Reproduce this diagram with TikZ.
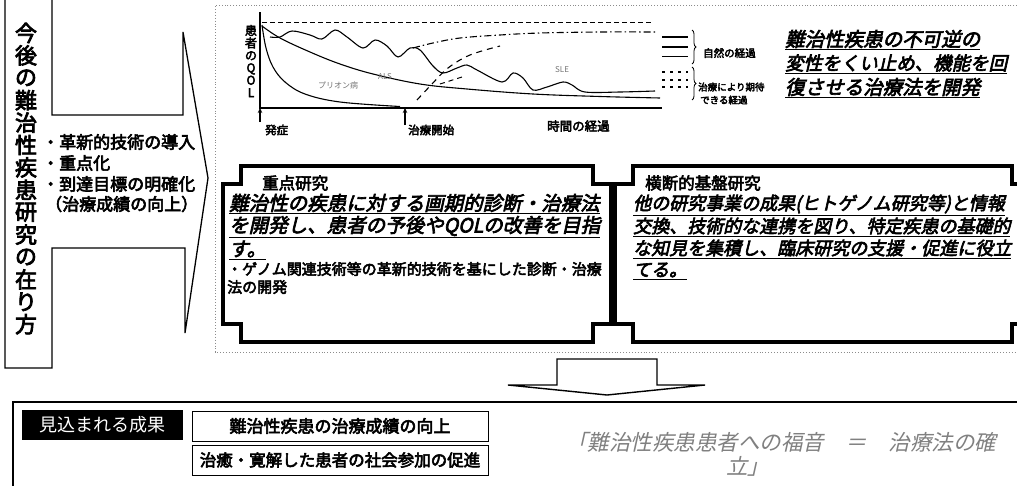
\documentclass[tikz,border=0pt]{standalone}
\usepackage{fontspec}
\newfontfamily\jp{Noto Sans CJK JP}
\newfontfamily\jpb[FakeBold=3.5]{Noto Sans CJK JP}
\newfontfamily\jpbi[FakeBold=3.5,FakeSlant=0.22]{Noto Sans CJK JP}
\newfontfamily\jpi[FakeSlant=0.22]{Noto Sans CJK JP}
\usetikzlibrary{arrows.meta,decorations.pathreplacing}
\newcommand\fs[2]{\fontsize{#1}{#2}\selectfont}
\newcommand\plaquebox[5]{%
  \draw[plaque] ({#1+#5},#2) -- ({#3-#5},#2) -- ({#3-#5},{#2+#5}) -- (#3,{#2+#5}) -- (#3,{#4-#5}) -- ({#3-#5},{#4-#5}) -- ({#3-#5},#4) -- ({#1+#5},#4) -- ({#1+#5},{#4-#5}) -- (#1,{#4-#5}) -- (#1,{#2+#5}) -- ({#1+#5},{#2+#5}) -- cycle;}
\tikzset{
  outline/.style={draw=black, line width=1.3pt, line join=miter},
  regionline/.style={draw=black!45, dotted, line width=0.9pt},
  plaque/.style={draw=black, line width=3.6pt, line join=miter, fill=white},
  lbl/.style={inner sep=0pt, anchor=west, font=\jp},
  axisline/.style={line width=2.2pt},
  qcurve/.style={line width=1.1pt},
  boxtext/.style={lbl, font=\jpbi\fs{19.5}{20}},
  rboxtext/.style={lbl, font=\jpbi\fs{18}{19}},
  sboxtext/.style={lbl, font=\jpb\fs{15}{15}},
  bullet/.style={lbl, font=\jpb\fs{17}{18}},
  smalllbl/.style={lbl, font=\jp\fs{8}{8}, text=black!55},
  legendtext/.style={lbl, font=\jpb\fs{10.5}{11}},
  upmark/.style={-{Stealth[length=5pt,width=4.5pt]}, line width=1.4pt},
  resultbox/.style={draw=black, line width=0.9pt, minimum width=296, minimum height=30, inner sep=0pt, font=\jpb\fs{16.5}{17}},
  titlechar/.style={inner sep=0pt, font=\jpb\fs{22}{22}}
}
\begin{document}
\begin{tikzpicture}[x=1pt,y=-1pt]
\useasboundingbox (0,0) rectangle (1017,485);
\clip (0,0) rectangle (1017,485);
\fill[white] (0,0) rectangle (1017,485);

% ---------- left title column and chevron ----------
\draw[outline] (52,-5) -- (52,115) -- (183,115) -- (183,32) -- (208,178) -- (185,333) -- (185,248) -- (52,248) -- (52,368) -- (5,368) -- (5,-5);
\foreach \c [count=\i] in {今,後,の,難,治,性,疾,患,研,究,の,在,り,方}
  \node[titlechar] (title\i) at (26,{33+(\i-1)*22.4}) {\c};
\node[bullet] (p1) at (42,142) {・革新的技術の導入};
\node[bullet] (p2) at (42,163) {・重点化};
\node[bullet] (p3) at (42,184) {・到達目標の明確化};
\node[bullet] (p4) at (45,204) {（治療成績の向上）};

% ---------- dotted region ----------
\draw[regionline] (1020,5) -- (215,5) -- (215,352) -- (1020,352);

% ---------- chart ----------
\coordinate (O) at (260,108);
\coordinate (Ytop) at (260,12);
\coordinate (Xend) at (662,108);
\coordinate (Tstart) at (405,108);
\coordinate (onsetB) at (260,122);
\coordinate (treatB) at (405,125);
\draw[dash pattern=on 5pt off 3pt, line width=1pt] (262,22) -- (653,22);
\draw[qcurve] plot[smooth, tension=0.6] coordinates {(262,25) (266,48) (273,67) (285,82) (305,94) (340,102) (400,106.5)};
\draw[qcurve] plot[smooth, tension=0.6] coordinates {(262,26) (280,38) (310,52) (340,64) (373,74) (420,84) (467,89) (533,94) (600,96.5) (660,98)};
\draw[qcurve] plot[smooth, tension=0.55] coordinates {(270,37) (280,37) (292,31) (310,35) (322,39) (335,30) (347,37) (363,48) (375,40) (387,46) (398,57) (410,48) (420,50) (433,66) (443,73) (457,68) (467,65) (477,70) (502,82) (513,73) (523,78) (533,90) (547,87) (563,82) (572,85) (585,92) (620,92) (655,91)};
\draw[line width=1.1pt, dash pattern=on 7pt off 3pt on 1.5pt off 3pt] plot[smooth, tension=0.6] coordinates {(413,48) (433,43) (460,38) (500,35) (540,33) (600,32) (655,32)};
\draw[line width=1.1pt, dash pattern=on 6pt off 5pt] plot[smooth, tension=0.6] coordinates {(417,100) (432,84) (448,68) (470,55) (500,46)};
\draw[line width=1pt, dash pattern=on 5pt off 4pt] (440,84) -- (462,77);
\draw[axisline] (Ytop) -- (O) -- (Xend);
\draw[upmark] (onsetB) -- (O);
\draw[upmark] (treatB) -- (Tstart);
\node[font=\jpb\fs{12}{12.4}, align=center, inner sep=0pt] (qol) at (251,61) {患\\者\\の\\Q\\O\\L};
\node[lbl, font=\jpb\fs{11.5}{12}] (onset) at (265,130) {発症};
\node[lbl, font=\jpb\fs{11.5}{12}] (treat) at (408,130) {治療開始};
\node[lbl, font=\jpb\fs{12.5}{13}] (time) at (547,126) {時間の経過};
\node[smalllbl] (prion) at (318,85) {プリオン病};
\node[smalllbl] (als) at (378,77) {ALS};
\node[smalllbl] (sle) at (555,70) {SLE};

% legend
\draw[line width=1.3pt] (662,37) -- (688,37);
\draw[line width=1.3pt] (662,47) -- (688,47);
\draw[line width=0.9pt] (662,56) -- (688,56);
\draw[line width=1.1pt, dash pattern=on 3pt off 5pt] (662,72) -- (688,72);
\draw[line width=1.1pt, dash pattern=on 3pt off 5pt] (662,80) -- (688,80);
\draw[line width=1.1pt, dash pattern=on 3pt off 5pt] (662,87) -- (688,87);
\coordinate (b1a) at (692,30); \coordinate (b1b) at (692,64);
\coordinate (b2a) at (692,67); \coordinate (b2b) at (692,100);
\draw[line width=0.8pt, decorate, decoration={brace, amplitude=4pt}] (b1a) -- (b1b);
\draw[line width=0.8pt, decorate, decoration={brace, amplitude=4pt}] (b2a) -- (b2b);
\node[legendtext] (nat) at (703,53) {自然の経過};
\node[lbl, font=\jpb\fs{9.5}{10}] (exp1) at (698,87) {治療により期待};
\node[lbl, font=\jpb\fs{9.5}{10}] (exp2) at (700,100) {できる経過};

% headline
\node[lbl, font=\jpbi\fs{19.5}{20}] (h1) at (785,40) {\underline{難治性疾患の不可逆の}};
\node[lbl, font=\jpbi\fs{18.5}{20}] (h2) at (785,64) {\underline{変性をくい止め、機能を回}};
\node[lbl, font=\jpbi\fs{19.5}{20}] (h3) at (785,88) {\underline{復させる治療法を開発}};

% ---------- plaques ----------
\plaquebox{223}{166}{611}{342}{18}
\plaquebox{615}{166}{1030}{342}{18}
\node[lbl, font=\jpb\fs{16.5}{17}] (lhead) at (262,183) {重点研究};
\node[boxtext] (l1) at (229,204) {\underline{難治性の疾患に対する画期的診断・治療法}};
\node[boxtext] (l2) at (229,227) {\underline{を開発し、患者の予後やQOLの改善を目指}};
\node[boxtext] (l3) at (229,250) {\underline{す。}};
\node[sboxtext] (l4) at (227,269) {・ゲノム関連技術等の革新的技術を基にした診断・治療};
\node[sboxtext] (l5) at (227,287) {法の開発};
\node[lbl, font=\jpb\fs{16.5}{17}] (rhead) at (645,183) {横断的基盤研究};
\node[rboxtext] (r1) at (633,205) {\underline{他の研究事業の成果(ヒトゲノム研究等)と情報}};
\node[rboxtext] (r2) at (633,227) {\underline{交換、技術的な連携を図り、特定疾患の基礎的}};
\node[rboxtext] (r3) at (633,249) {\underline{な知見を集積し、臨床研究の支援・促進に役立}};
\node[rboxtext] (r4) at (633,271) {\underline{てる。}};

% ---------- down arrow ----------
\draw[line width=1.4pt, fill=white, line join=miter] (557,359) -- (657,359) -- (657,385) -- (705,385) -- (607,395) -- (508,385) -- (557,385) -- cycle;

% ---------- results ----------
\draw[line width=1.2pt] (1022,402) -- (13,402) -- (13,490);
\node[fill=black, text=white, minimum width=161, minimum height=30, inner sep=0pt, font=\jp\fs{18}{18}] (res) at (102.5,425) {見込まれる成果};
\node[resultbox, font=\jpb\fs{17}{17}] (r1box) at (340,426) {難治性疾患の治療成績の向上};
\node[resultbox] (r2box) at (340,460) {治癒・寛解した患者の社会参加の促進};
\node[lbl, font=\jpi\fs{21.5}{21.5}, text=black!50] (gos1) at (566,442) {「難治性疾患患者への福音　＝　治療法の確};
\node[lbl, font=\jpi\fs{21.5}{21.5}, text=black!50] (gos2) at (726,466) {立」};
\end{tikzpicture}
\end{document}
